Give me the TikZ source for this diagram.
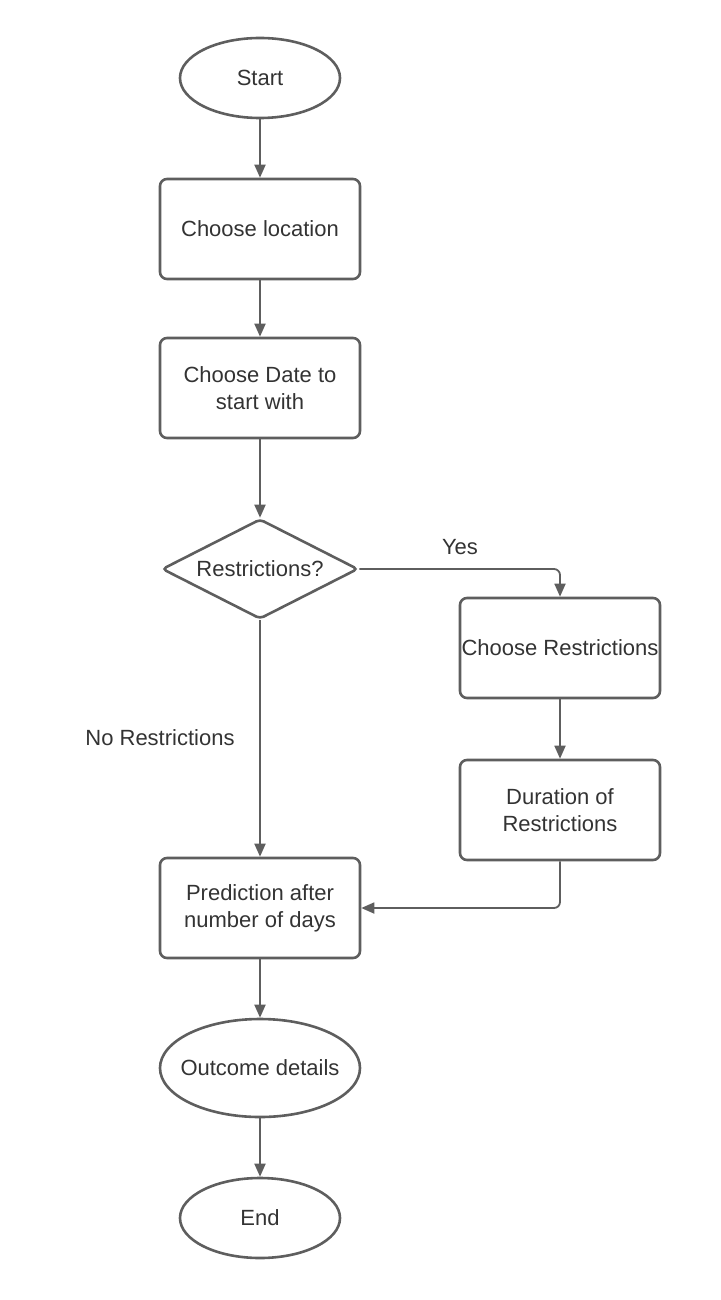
\documentclass[tikz,border=0pt]{standalone}
\usepackage{fontspec}
\setmainfont{Liberation Sans}
\usetikzlibrary{shapes.geometric,arrows.meta}
\definecolor{stroke}{HTML}{5E5E5E}
\definecolor{txt}{HTML}{333333}
\begin{document}
\begin{tikzpicture}[x=1pt,y=-1pt,
  every node/.style={font=\fontsize{22}{27}\selectfont, text=txt},
  box/.style={draw=stroke, line width=2.6pt, rounded corners=7pt, minimum width=200pt, minimum height=100pt, align=center, inner sep=0pt},
  oval/.style={draw=stroke, line width=2.6pt, ellipse, inner sep=0pt},
  dia/.style={draw=stroke, line width=2.6pt, diamond, aspect=1.96, minimum width=196pt, minimum height=100pt, inner sep=0pt, rounded corners=4pt},
  conn/.style={draw=stroke, line width=1.8pt, rounded corners=6pt, -{Triangle[length=13pt,width=11pt]}}]
\useasboundingbox (0,0) rectangle (720,1300);
\node[oval, minimum width=160pt, minimum height=80pt] (start) at (260,78) {Start};
\node[box] (loc) at (260,229) {Choose location};
\node[box] (date) at (260,388) {Choose Date to\\start with};
\node[dia] (res) at (260,569) {\makebox[0pt]{Restrictions?}};
\node[box] (chres) at (560,648) {Choose Restrictions};
\node[box] (dur) at (560,810) {Duration of\\Restrictions};
\node[box] (pred) at (260,908) {Prediction after\\number of days};
\node[oval, minimum width=200pt, minimum height=98pt] (out) at (260,1068) {\makebox[0pt]{Outcome details}};
\node[oval, minimum width=160pt, minimum height=80pt] (end) at (260,1218) {End};
\node (yes) at (460,547) {Yes};
\node (no) at (160,738) {No Restrictions};
\draw[conn] (start) -- (loc);
\draw[conn] (loc) -- (date);
\draw[conn] (date) -- (res);
\draw[conn] (res.east) -| (chres.north);
\draw[conn] (chres) -- (dur);
\draw[conn] (res.south) -- (pred.north);
\draw[conn] (dur.south) |- (pred.east);
\draw[conn] (pred) -- (out);
\draw[conn] (out) -- (end);
\end{tikzpicture}
\end{document}
